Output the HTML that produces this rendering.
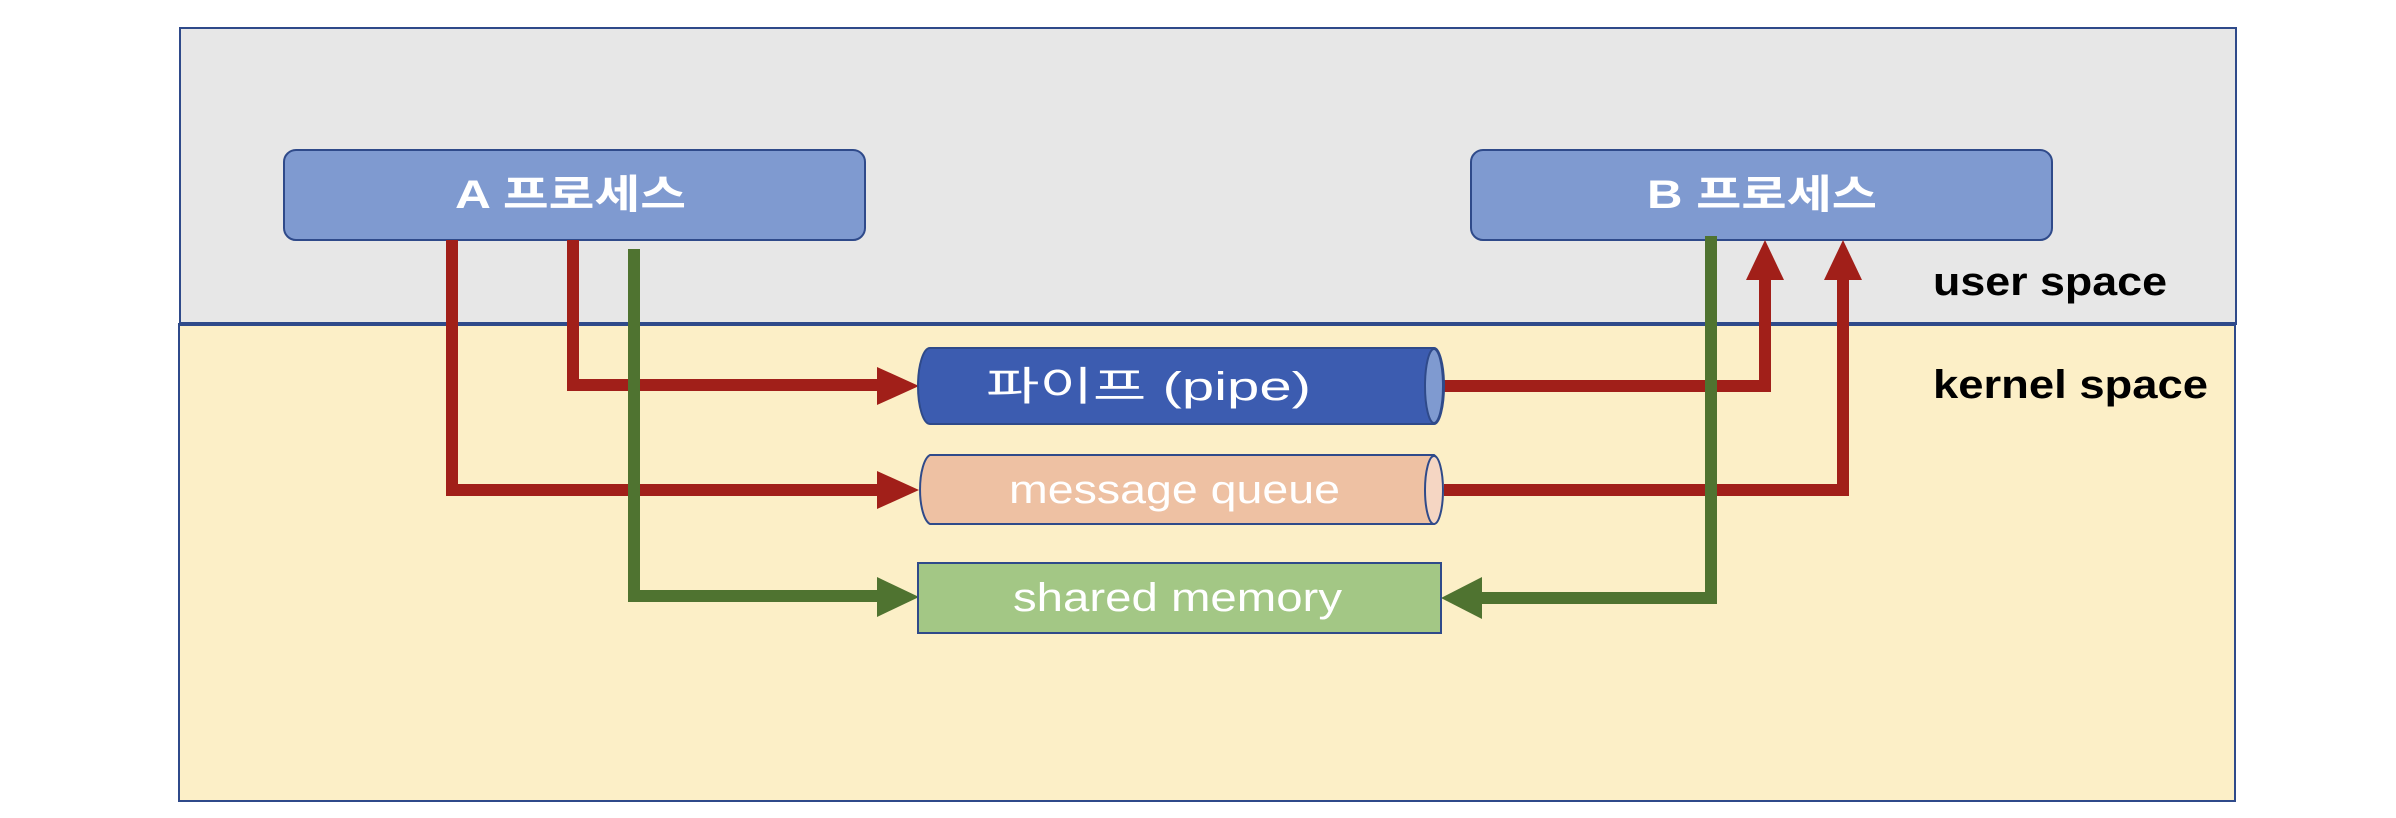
<!DOCTYPE html>
<html><head><meta charset="utf-8"><style>
html,body{margin:0;padding:0;background:#fff;}
svg{display:block;}
text{font-family:"Liberation Sans","Noto Sans CJK KR",sans-serif;}
</style></head><body>
<svg width="2396" height="818" viewBox="0 0 2396 818" xmlns="http://www.w3.org/2000/svg">
<rect x="0" y="0" width="2396" height="818" fill="#fff"/>
<rect x="180" y="28" width="2056" height="296" fill="#e7e7e7" stroke="#2f4a8a" stroke-width="2"/>
<rect x="179" y="324" width="2056" height="477" fill="#fcefc7" stroke="#2f4a8a" stroke-width="2"/>
<line x1="179" y1="324" x2="2236" y2="324" stroke="#2f4a8a" stroke-width="4"/>

<rect x="284" y="150" width="581" height="90" rx="12" fill="#7f9ad0" stroke="#2f4a8a" stroke-width="2"/>
<text x="455" y="208" font-size="40" font-weight="bold" fill="#fff" textLength="231" lengthAdjust="spacingAndGlyphs">A 프로세스</text>
<rect x="1471" y="150" width="581" height="90" rx="12" fill="#7f9ad0" stroke="#2f4a8a" stroke-width="2"/>
<text x="1647" y="208" font-size="40" font-weight="bold" fill="#fff" textLength="230" lengthAdjust="spacingAndGlyphs">B 프로세스</text>

<text x="1933" y="295" font-size="40" font-weight="bold" fill="#000" textLength="234" lengthAdjust="spacingAndGlyphs">user space</text>
<text x="1933" y="398" font-size="40" font-weight="bold" fill="#000" textLength="275" lengthAdjust="spacingAndGlyphs">kernel space</text>

<g fill="none" stroke-width="12">
<path d="M452 240 V490 H885" stroke="#a11f19"/>
<path d="M573 240 V385 H885" stroke="#a11f19"/>
<path d="M634 249 V596 H885" stroke="#4f7330"/>
<path d="M1444 386 H1765 V270" stroke="#a11f19"/>
<path d="M1444 490 H1843 V270" stroke="#a11f19"/>
<path d="M1711 236 V598 H1475" stroke="#4f7330"/>
</g>
<polygon points="877,367 919,386 877,405" fill="#a11f19"/>
<polygon points="877,471 919,490 877,509" fill="#a11f19"/>
<polygon points="877,577 919,597 877,617" fill="#4f7330"/>
<polygon points="1441,598 1482,577 1482,619" fill="#4f7330"/>
<polygon points="1746,280 1765,240 1784,280" fill="#a11f19"/>
<polygon points="1824,280 1843,240 1862,280" fill="#a11f19"/>

<path d="M930 348 H1434 A10 38 0 0 1 1434 424 H930 A12 38 0 0 1 930 348 Z" fill="#3c5cb0" stroke="#2f4a8a" stroke-width="2"/>
<ellipse cx="1434" cy="386" rx="9" ry="37" fill="#7f9ad0" stroke="#2f4a8a" stroke-width="2"/>
<text x="986" y="400" font-size="40" fill="#fff" textLength="325" lengthAdjust="spacingAndGlyphs">파이프 (pipe)</text>

<path d="M930 455 H1434 A10 35 0 0 1 1434 524 H930 A12 35 0 0 1 930 455 Z" fill="#eec1a3" stroke="#2f4a8a" stroke-width="2"/>
<ellipse cx="1434" cy="490" rx="9" ry="34" fill="#f5d6c3" stroke="#2f4a8a" stroke-width="2"/>
<text x="1009" y="503" font-size="40" fill="#fff" textLength="331" lengthAdjust="spacingAndGlyphs">message queue</text>

<rect x="918" y="563" width="523" height="70" fill="#a3c785" stroke="#2f4a8a" stroke-width="2"/>
<text x="1013" y="611" font-size="40" fill="#fff" textLength="329" lengthAdjust="spacingAndGlyphs">shared memory</text>
</svg>
</body></html>
